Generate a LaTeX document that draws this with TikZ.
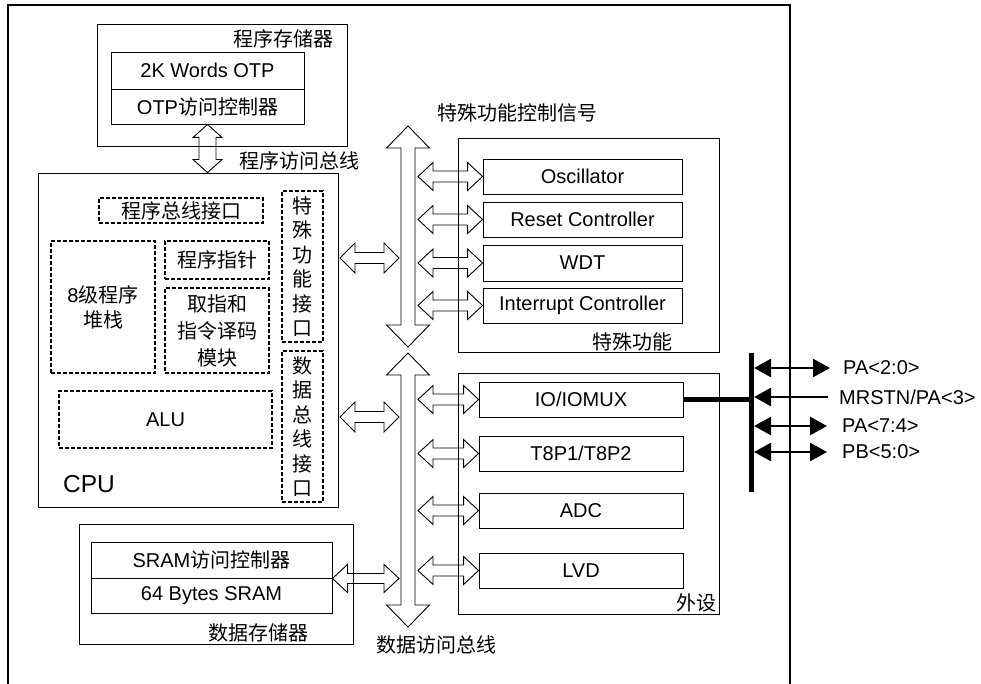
\documentclass[tikz,border=0pt]{standalone}
\usepackage{fontspec}
\setmainfont{Liberation Sans}
\newfontfamily\cjk{Noto Sans CJK SC}
\usetikzlibrary{calc,arrows.meta}
\newcommand{\zh}[1]{{\cjk #1}}
% hollow double arrows: from, to, head length, head half width, shaft half width
\newcommand{\hollowh}[5]{\draw[hollow] let \p1=(#1), \p2=(#2) in
  (\x1,\y1) -- (\x1+#3pt,\y1+#4pt) -- (\x1+#3pt,\y1+#5pt) -- (\x2-#3pt,\y1+#5pt) -- (\x2-#3pt,\y1+#4pt)
  -- (\x2,\y1) -- (\x2-#3pt,\y1-#4pt) -- (\x2-#3pt,\y1-#5pt) -- (\x1+#3pt,\y1-#5pt) -- (\x1+#3pt,\y1-#4pt) -- cycle;}
\newcommand{\hollowv}[5]{\draw[hollow] let \p1=(#1), \p2=(#2) in
  (\x1,\y1) -- (\x1+#4pt,\y1-#3pt) -- (\x1+#5pt,\y1-#3pt) -- (\x1+#5pt,\y2+#3pt) -- (\x1+#4pt,\y2+#3pt)
  -- (\x1,\y2) -- (\x1-#4pt,\y2+#3pt) -- (\x1-#5pt,\y2+#3pt) -- (\x1-#5pt,\y1-#3pt) -- (\x1-#4pt,\y1-#3pt) -- cycle;}
\begin{document}
\begin{tikzpicture}[x=1pt,y=-1pt,font=\fontsize{20}{25}\selectfont,
    >={Triangle[length=17pt,width=18pt]},
    wh/.style 2 args={minimum width=#1pt,minimum height=#2pt},
    blk/.style={draw,line width=0.9pt,inner sep=0pt},
    dbox/.style={draw,line width=1.2pt,dash pattern=on 4pt off 2pt,inner sep=0pt,align=center},
    lbl/.style={inner sep=0pt},
    zh/.style={font=\fontsize{20}{25}\selectfont\cjk},
    hollow/.style={draw,line width=0.9pt},
    pin/.style={line width=2.5pt}]
    \useasboundingbox (0,0) rectangle (981,684);
    \draw[line width=1.1pt] (8,684) -- (8,5) -- (790,5) -- (790,684);
    % program memory
    \node[blk,wh={250}{122}] (pmem) at (222,85) {};
    \node[lbl,zh,anchor=east] (pmemlbl) at (334,39) {程序存储器};
    \node[blk,wh={193}{37}] (otp) at (207.5,70.5) {2K Words OTP};
    \node[blk,wh={193}{35}] (otpctl) at (207.5,106.5) {OTP\zh{访问控制器}};
    \node[lbl,zh] (pbuslbl) at (299,161) {程序访问总线};
    % cpu
    \node[blk,wh={300}{334}] (cpu) at (188,340) {};
    \node[dbox,zh,wh={164}{25}] (pbif) at (181,210.5) {程序总线接口};
    \node[dbox,wh={104}{132}] (stack) at (103,307) {8\zh{级程序}\\\zh{堆栈}};
    \node[dbox,zh,wh={104}{38}] (pc) at (217,260) {程序指针};
    \node[dbox,zh,wh={104}{85},font=\fontsize{20}{27}\selectfont\cjk] (decode) at (217,330.5) {取指和\\指令译码\\模块};
    \node[dbox,wh={213}{57}] (alu) at (165.5,419.5) {ALU};
    \node[dbox,wh={41}{151},font=\fontsize{20}{24.5}\selectfont\cjk] (sfif) at (302.5,266.5) {特\\殊\\功\\能\\接\\口};
    \node[dbox,wh={41}{151},font=\fontsize{20}{24.5}\selectfont\cjk] (dbif) at (302.5,426.5) {数\\据\\总\\线\\接\\口};
    \node[lbl,font=\fontsize{24.5}{28}\selectfont] (cpulbl) at (89,484) {CPU};
    % special functions
    \node[lbl,zh] (sfsiglbl) at (517,113) {特殊功能控制信号};
    \node[blk,wh={261}{214}] (sf) at (588.5,245) {};
    \node[lbl,zh] (sflbl) at (632.5,342) {特殊功能};
    \node[blk,wh={199}{35}] (osc) at (582.5,176.5) {Oscillator};
    \node[blk,wh={199}{35}] (rst) at (582.5,219.5) {Reset Controller};
    \node[blk,wh={199}{36}] (wdt) at (582.5,263) {WDT};
    \node[blk,wh={199}{35}] (irq) at (582.5,305.5) {Interrupt Controller};
    % peripherals
    \node[blk,wh={261}{241}] (per) at (588.5,493.5) {};
    \node[lbl,zh] (perlbl) at (696,603) {外设};
    \node[blk,wh={204}{35}] (io) at (581,399.5) {IO/IOMUX};
    \node[blk,wh={204}{35}] (tmr) at (581,453.5) {T8P1/T8P2};
    \node[blk,wh={204}{35}] (adc) at (581,510.5) {ADC};
    \node[blk,wh={204}{35}] (lvd) at (581,570.5) {LVD};
    % data memory
    \node[blk,wh={274}{120}] (dmem) at (216,584) {};
    \node[lbl,zh] (dmemlbl) at (258,633) {数据存储器};
    \node[blk,wh={241}{36}] (sramctl) at (211.5,560) {SRAM\zh{访问控制器}};
    \node[blk,wh={241}{35}] (sram) at (211.5,595.5) {64 Bytes SRAM};
    \node[lbl,zh] (dbuslbl) at (436,645) {数据访问总线};
    % buses
    \coordinate (sftop) at (408,126);
    \coordinate (sfbot) at (408,347);
    \coordinate (dtop) at (408,353);
    \coordinate (dbot) at (408,627);
    \coordinate (busl) at (399,0);
    \coordinate (busr) at (418,0);
    \coordinate (sfport) at (340,258);
    \coordinate (dport) at (340,417);
    \hollowv{sftop}{sfbot}{22}{21.5}{7}
    \hollowv{dtop}{dbot}{22}{21.5}{7}
    \hollowv{otpctl.south}{otpctl.south |- cpu.north}{13}{14.5}{8.5}
    \hollowh{sfport}{busl |- sfport}{15}{15}{5.5}
    \hollowh{dport}{busl |- dport}{15}{15}{5.5}
    \hollowh{sramctl.south east}{busl |- sramctl.south east}{15}{14}{5}
    \foreach \b in {osc,rst,wdt,irq,io,tmr,adc,lvd}
        \hollowh{busr |- \b}{\b.west}{15}{14}{5.5};
    % io pins
    \coordinate (bartop) at (751,353);
    \coordinate (barbot) at (751,492);
    \coordinate (barr) at (754,0);
    \draw[line width=5pt] (bartop) -- (barbot);
    \draw[line width=4.5pt] (io.east) -- (bartop |- io.east);
    \node[lbl,anchor=west] (pa20) at (843,368) {PA<2:0>};
    \node[lbl,anchor=west] (mrstn) at (839,397) {MRSTN/PA<3>};
    \node[lbl,anchor=west] (pa74) at (842,426) {PA<7:4>};
    \node[lbl,anchor=west] (pb50) at (842,452) {PB<5:0>};
    \draw[pin,<->] (barr |- pa20) -- ([xshift=-13pt]pa20.west);
    \draw[pin,<-] (barr |- mrstn) -- ([xshift=-11pt]mrstn.west);
    \draw[pin,<->] (barr |- pa74) -- ([xshift=-15pt]pa74.west);
    \draw[pin,<->] (barr |- pb50) -- ([xshift=-15pt]pb50.west);
\end{tikzpicture}
\end{document}
